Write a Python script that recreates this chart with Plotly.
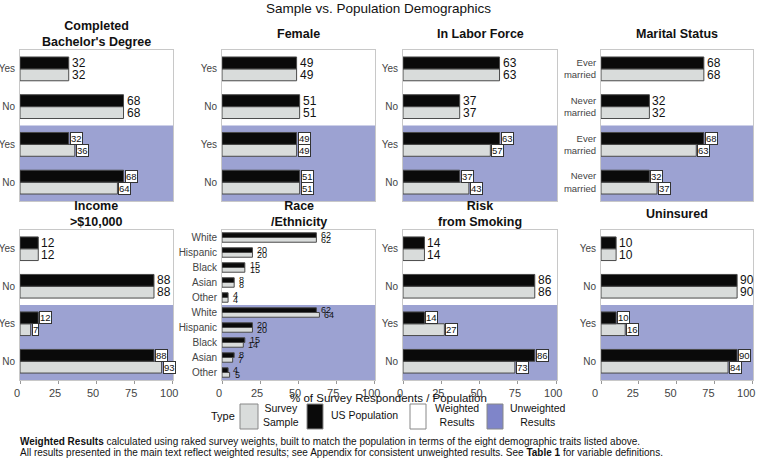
import plotly.graph_objects as go
from plotly.subplots import make_subplots

W, H = 757, 465

# %% data
titles = ["Completed<br>Bachelor's Degree", "Female", "In Labor Force", "Marital Status",
          "Income<br>>$10,000", "Race<br>/Ethnicity", "Risk<br>from Smoking", "Uninsured"]

yes_no = ["Yes", "No"]
marital_cats = ["Ever<br>married", "Never<br>married"]
race_cats = ["White", "Hispanic", "Black", "Asian", "Other"]

cats = [yes_no, yes_no, yes_no, marital_cats, yes_no, race_cats, yes_no, yes_no]

# weighted results
us_w = [[32, 68], [49, 51], [63, 37], [68, 32], [12, 88], [62, 20, 15, 8, 4], [14, 86], [10, 90]]
sample_w = [[32, 68], [49, 51], [63, 37], [68, 32], [12, 88], [62, 20, 15, 8, 4], [14, 86], [10, 90]]
# unweighted results
us_u = [[32, 68], [49, 51], [63, 37], [68, 32], [12, 88], [62, 20, 15, 8, 4], [14, 86], [10, 90]]
sample_u = [[36, 64], [49, 51], [57, 43], [63, 37], [7, 93], [64, 20, 14, 7, 5], [27, 73], [16, 84]]

x_ticks = [0, 25, 50, 75, 100]

# %% style
GRAY = "#d9dcdb"
BLACK = "#0a0a0a"
PURPLE = "#9ca2d2"
PURPLE_KEY = "#7f85c9"
OUTLINE = "#4a4a4a"
FONT = "Liberation Sans, Arial, sans-serif"
BARGAP = 0.37

col_px = [(20, 173), (222, 375), (403, 557), (601, 753)]
row_px = [(50, 201), (230, 380)]


def px_x(x):
    return x / W


def px_y(y):
    return 1 - y / H


def note(x, y, text, size=11, xanchor="center", **kw):
    # paper-positioned text, x/y given in pixels from top-left
    fig.add_annotation(x=px_x(x), y=px_y(y), xref="paper", yref="paper", showarrow=False,
                       xanchor=xanchor, yanchor="middle", text=text,
                       font=dict(size=size, color="#111", family=FONT), **kw)


fig = make_subplots(rows=2, cols=4)

for i in range(8):
    r, c = i // 4 + 1, i % 4 + 1
    n = len(cats[i])
    ypos = list(range(2 * n - 1, -1, -1))
    ylab = cats[i] + cats[i]
    us = us_w[i] + us_u[i]
    sm = sample_w[i] + sample_u[i]

    fig.add_trace(go.Bar(y=ypos, x=sm, orientation="h", marker_color=GRAY,
                         marker_line=dict(color=OUTLINE, width=1), showlegend=False,
                         hoverinfo="x"), row=r, col=c)
    fig.add_trace(go.Bar(y=ypos, x=us, orientation="h", marker_color=BLACK,
                         marker_line=dict(color=OUTLINE, width=1), showlegend=False,
                         hoverinfo="x"), row=r, col=c)

    ax = "" if i == 0 else str(i + 1)
    # unweighted background
    fig.add_shape(type="rect", xref=f"x{ax} domain", yref=f"y{ax}", x0=0, x1=1,
                  y0=-0.5, y1=n - 0.5, fillcolor=PURPLE, line_width=0, layer="below")

    # value labels
    off = (1 - BARGAP) / 4
    small = n > 2
    for k, yy in enumerate(ypos):
        weighted = k < n
        for val, dy in [(us[k], off), (sm[k], -off)]:
            lab = dict(x=val, y=yy + dy, xref=f"x{ax}", yref=f"y{ax}", text=str(val),
                       showarrow=False, xanchor="left", yanchor="middle", xshift=1)
            if small:
                lab.update(y=yy + dy * 1.15, xshift=3,
                           font=dict(size=9, color="#111", family=FONT))
            elif weighted:
                lab.update(font=dict(size=12, color="#111", family=FONT))
            else:
                lab.update(bgcolor="white", bordercolor="#333", borderwidth=1, borderpad=0,
                           font=dict(size=9.5, color="#111", family=FONT))
            fig.add_annotation(**lab)

    x0, x1 = col_px[c - 1]
    y0, y1 = row_px[r - 1]
    fig.update_xaxes(domain=[px_x(x0), px_x(x1)], range=[0, 100.5], tickvals=x_ticks,
                     showticklabels=(r == 2), ticks="outside" if r == 2 else "",
                     ticklen=3, tickcolor="#999", showgrid=False, zeroline=False,
                     showline=True, mirror=True, linecolor="#c8c8c8", linewidth=1,
                     tickfont=dict(size=11, color="#444", family=FONT),
                     ticklabelshift=-6 if c == 4 else -3, automargin=False,
                     fixedrange=True, row=r, col=c)
    fig.update_yaxes(domain=[px_y(y1), px_y(y0)], range=[-0.5, 2 * n - 0.5],
                     tickvals=ypos, ticktext=ylab, showgrid=False, zeroline=False,
                     showline=True, mirror=True, linecolor="#c8c8c8", linewidth=1,
                     ticks="", ticklabelstandoff=2, automargin=False,
                     tickfont=dict(size=9.5 if c == 4 and r == 1 else 10, color="#444", family=FONT),
                     fixedrange=True, row=r, col=c)

    # facet title
    note((x0 + x1) / 2, y0 - 16, f"<b>{titles[i]}</b>", size=12.5)

# overall title and axis title
note(W / 2, 8, "Sample vs. Population Demographics", size=13.5)
note(388, 398, "% of Survey Respondents / Population", size=11.5)

# legend key
note(237, 416, "Type", xanchor="right")
keys = [(240, 258, GRAY, "Survey<br>Sample", 281),
        (307, 323, BLACK, "US Population", 364),
        (410, 426, "white", "Weighted<br>Results", 457),
        (487, 503, PURPLE_KEY, "Unweighted<br>Results", 538)]
for kx0, kx1, col, lab, tx in keys:
    fig.add_shape(type="rect", xref="paper", yref="paper", x0=px_x(kx0), x1=px_x(kx1),
                  y0=px_y(429), y1=px_y(404), fillcolor=col, line=dict(color="#888", width=1))
    note(tx, 415, lab, size=10.5)

# footnote
note(18, 441, "<b>Weighted Results</b> calculated using raked survey weights, built to match the population in terms of the eight demographic traits listed above.",
     size=10, xanchor="left", align="left")
note(18, 452, "All results presented in the main text reflect weighted results; see Appendix for consistent unweighted results. See <b>Table 1</b> for variable definitions.",
     size=10, xanchor="left", align="left")

fig.update_layout(width=W, height=H, margin=dict(l=0, r=0, t=0, b=0),
                  barmode="group", bargap=BARGAP, bargroupgap=0,
                  plot_bgcolor="white", paper_bgcolor="white",
                  font=dict(family=FONT), showlegend=False)

# page body has a default 8px margin; drop it so the figure sits at the corner
fig.write_html("out.html", config={"displayModeBar": False},
               post_script="document.body.style.margin = '0';")
